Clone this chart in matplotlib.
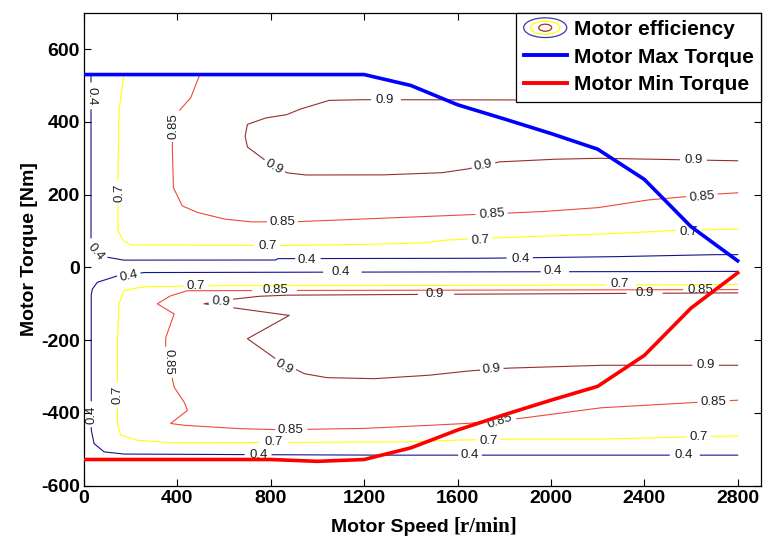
"""
plot.py - motor efficiency map with max / min torque envelope
"""

import numpy as np
import matplotlib
matplotlib.use("Agg")
import matplotlib.pyplot as plt
from matplotlib.lines import Line2D
from matplotlib.patches import Ellipse
from matplotlib.legend_handler import HandlerBase

plt.rcParams["axes.unicode_minus"] = False

# torque envelope
env_speed = [0, 200, 400, 600, 800, 1000, 1200, 1400, 1600, 1800, 2000, 2200, 2400, 2600, 2800]
max_torque = [530, 530, 530, 530, 530, 530, 530, 500, 447, 408, 368, 325, 242, 112, 18]
min_torque = [-528, -528, -528, -528, -528, -533, -528, -496, -447, -405, -365, -327, -242, -112, -15]

# efficiency contour lines, (speed, torque)
eff04_upper = [(30, 525), (30, 66), (55, 33), (170, 20), (820, 20), (830, 24), (1450, 25),
               (1700, 25), (2240, 29), (2680, 35), (2800, 35)]
eff04_lower = [(2800, -11), (260, -14), (140, -24), (105, -31), (57, -41), (36, -59), (31, -75),
               (31, -447), (43, -484), (86, -507), (171, -513), (1200, -516), (2800, -516)]
eff07_upper = [(170, 525), (150, 430), (145, 250), (145, 100), (170, 73), (200, 62), (830, 60),
               (1200, 63), (1450, 67), (1550, 75), (1800, 82), (2200, 91), (2550, 102), (2800, 105)]
eff07_lower = [(2800, -47), (1500, -50), (600, -50), (270, -53), (228, -56), (171, -64), (150, -100),
               (143, -200), (143, -429), (157, -461), (228, -475), (371, -482), (1354, -480),
               (1570, -475), (1810, -472), (2210, -472), (2530, -467), (2800, -463)]
eff085_upper = [(493, 525), (457, 466), (393, 420), (378, 338), (383, 219), (421, 169), (486, 151),
                (600, 133), (714, 125), (926, 126), (1354, 137), (1697, 146), (1954, 153),
                (2200, 164), (2411, 185), (2697, 201), (2800, 205)]
eff085_lower = [(2800, -61), (443, -64), (371, -78), (314, -100), (386, -128), (371, -155),
                (350, -192), (350, -219), (386, -329), (429, -370), (443, -393), (371, -429),
                (429, -434), (657, -443), (829, -446), (1183, -443), (1354, -438), (1640, -429),
                (1869, -415), (2211, -386), (2483, -376), (2800, -365)]
eff09_upper = [(2800, 459), (1200, 461), (1050, 459), (930, 436), (870, 420), (780, 411),
               (700, 393), (690, 361), (700, 331), (770, 297), (870, 260), (950, 254), (1270, 254),
               (1530, 260), (1640, 270), (1780, 290), (2000, 297), (2200, 300), (2800, 293)]
eff09_lower = [(2800, -70), (886, -76), (757, -79), (643, -87), (514, -100), (879, -132),
               (700, -196), (771, -228), (829, -255), (943, -292), (1040, -303), (1240, -306),
               (1469, -297), (1640, -285), (1811, -277), (2211, -269), (2800, -269)]

# contour label spots: (line, text, speed, torque, rotation)
label_spots = [
    ("04u", "0.4", 30, 470, -90), ("04u", "0.4", 48, 42, -50),
    ("04u", "0.4", 955, 19, 0), ("04u", "0.4", 1869, 24, 0),
    ("07u", "0.7", 150, 205, 90), ("07u", "0.7", 786, 60, 0),
    ("07u", "0.7", 1697, 73, 4), ("07u", "0.7", 2590, 97, 0),
    ("085u", "0.85", 382, 388, 90), ("085u", "0.85", 850, 126, 0),
    ("085u", "0.85", 1747, 146, 4), ("085u", "0.85", 2647, 195, 5),
    ("09u", "0.9", 1290, 459, 0), ("09u", "0.9", 814, 276, -30),
    ("09u", "0.9", 1711, 280, 10), ("09u", "0.9", 2611, 295, 0),
    ("04l", "0.4", 193, -24, 12), ("04l", "0.4", 1100, -12, 0),
    ("04l", "0.4", 2009, -11, 0), ("04l", "0.4", 31, -406, 90),
    ("04l", "0.4", 750, -516, 0), ("04l", "0.4", 1654, -516, 0),
    ("04l", "0.4", 2569, -516, 0),
    ("07l", "0.7", 479, -52, 0), ("07l", "0.7", 2294, -47, 0),
    ("07l", "0.7", 145, -351, 90), ("07l", "0.7", 814, -481, 0),
    ("07l", "0.7", 1733, -477, 0), ("07l", "0.7", 2633, -467, 0),
    ("085l", "0.85", 821, -62, 0), ("085l", "0.85", 2640, -61, 0),
    ("085l", "0.85", 364, -260, -90), ("085l", "0.85", 886, -446, 0),
    ("085l", "0.85", 1783, -424, 18), ("085l", "0.85", 2697, -371, 0),
    ("09l", "0.9", 586, -95, -5), ("09l", "0.9", 1504, -73, 0),
    ("09l", "0.9", 2400, -70, 0), ("09l", "0.9", 857, -274, -30),
    ("09l", "0.9", 1747, -281, 5), ("09l", "0.9", 2661, -269, 0),
]

contour_lines = {
    "04u": (eff04_upper, "#14148c"), "04l": (eff04_lower, "#14148c"),
    "07u": (eff07_upper, "#ffff00"), "07l": (eff07_lower, "#ffff00"),
    "085u": (eff085_upper, "#ee4a38"), "085l": (eff085_lower, "#ee4a38"),
    "09u": (eff09_upper, "#962e2e"), "09l": (eff09_lower, "#962e2e"),
}

SANS = "Liberation Sans"
LABEL_PT = 9.5


class EllipseIcon(HandlerBase):
    def create_artists(self, legend, orig_handle, xdescent, ydescent,
                       width, height, fontsize, trans):
        cx = width / 2 - xdescent
        cy = height / 2 - ydescent
        rings = [(1.0, 1.35, "#3a3aa8"), (0.68, 0.9, "#ffff00"), (0.3, 0.48, "#a03030")]
        out = []
        for fw, fh, col in rings:
            out.append(Ellipse((cx, cy), width * fw, height * fh, fill=False,
                               edgecolor=col, lw=0.9, transform=trans))
        return out


def gapped_line(ax, pts, spots):
    # resample the polyline and blank it under its own labels, like clabel does
    pts = np.asarray(pts, dtype=float)
    xs, ys = [], []
    for a, b in zip(pts[:-1], pts[1:]):
        t = np.linspace(0, 1, 60, endpoint=False)
        xs.append(a[0] + (b[0] - a[0]) * t)
        ys.append(a[1] + (b[1] - a[1]) * t)
    x = np.concatenate(xs + [pts[-1:, 0]])
    y = np.concatenate(ys + [pts[-1:, 1]])
    disp = ax.transData.transform(np.column_stack([x, y]))
    mask = np.zeros(len(x), dtype=bool)
    em = LABEL_PT * 100 / 72
    for txt, sx, sy, rot in spots:
        c = ax.transData.transform((sx, sy))
        d = disp - c
        th = np.deg2rad(rot)
        u = d[:, 0] * np.cos(th) + d[:, 1] * np.sin(th)
        v = -d[:, 0] * np.sin(th) + d[:, 1] * np.cos(th)
        half_w = (0.556 * (len(txt) - 1) + 0.278) * em / 2 + 3
        mask |= (np.abs(u) < half_w) & (np.abs(v) < 8)
    y = y.copy()
    y[mask] = np.nan
    return x, y


def main():
    fig = plt.figure(figsize=(7.63, 5.38), dpi=100)
    ax = fig.add_axes([0.1101, 0.0972, 0.8873, 0.8792])
    ax.set_xlim(0, 2900)
    ax.set_ylim(-600, 700)

    for key, (pts, col) in contour_lines.items():
        spots = [(t, sx, sy, r) for k, t, sx, sy, r in label_spots if k == key]
        x, y = gapped_line(ax, pts, spots)
        ax.plot(x, y, color=col, lw=0.8, zorder=1)

    for key, txt, sx, sy, rot in label_spots:
        ax.text(sx, sy, txt, fontsize=LABEL_PT, family=SANS, color="#202020",
                ha="center", va="center", rotation=rot, rotation_mode="anchor", zorder=2)

    ax.plot(env_speed, max_torque, color="#0000ff", lw=2.6, zorder=3)
    ax.plot(env_speed, min_torque, color="#ff0000", lw=2.6, zorder=3)

    ax.set_xticks(np.arange(0, 2801, 400))
    ax.set_yticks(np.arange(-600, 601, 200))
    ax.tick_params(direction="in", length=5, width=0.8, top=True, right=True,
                   labelsize=14, pad=3)
    for lab in ax.get_xticklabels() + ax.get_yticklabels():
        lab.set_fontweight("bold")
        lab.set_family(SANS)
    for sp in ax.spines.values():
        sp.set_linewidth(0.9)

    ax.set_ylabel("Motor Torque [Nm]", fontsize=14, fontweight="bold", family=SANS, labelpad=2)
    fig.text(0.595, 0.012, "Motor Speed ", ha="right", va="baseline", fontsize=14,
             fontweight="bold", family=SANS)
    fig.text(0.595, 0.012, "[r/min]", ha="left", va="baseline", fontsize=15,
             fontweight="bold", family="Liberation Serif")

    eff_proxy = Line2D([], [])
    handles = [eff_proxy,
               Line2D([], [], color="#0000ff", lw=2.8),
               Line2D([], [], color="#ff0000", lw=2.8)]
    leg = ax.legend(handles, ["Motor efficiency", "Motor Max Torque", "Motor Min Torque"],
                    handler_map={eff_proxy: EllipseIcon()},
                    loc="upper right", bbox_to_anchor=(1, 1), borderaxespad=0,
                    fancybox=False, framealpha=1, edgecolor="black",
                    prop=dict(family=SANS, weight="bold", size=15),
                    handlelength=2.07, handletextpad=0.34, labelspacing=0.42,
                    borderpad=0.35)
    leg.get_frame().set_linewidth(0.9)
    leg.set_zorder(5)

    fig.savefig("out.png", dpi=100)
    plt.close(fig)


if __name__ == "__main__":
    main()
